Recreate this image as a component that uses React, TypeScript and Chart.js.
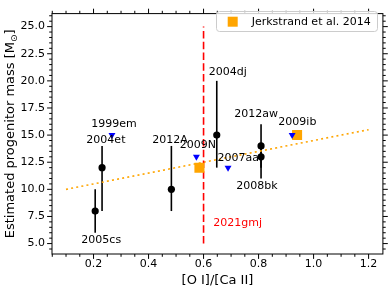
import React, { useEffect, useRef } from "react";
import { Chart, registerables } from "chart.js";

Chart.register(...registerables);

const FONT = "'DejaVu Sans', 'Liberation Sans', sans-serif";

// Supernovae with progenitor mass estimates (black points with error bars)
const snNames = ["2005cs", "2004et", "2012A", "2004dj", "2012aw", "2008bk"];
const snRatio = [0.206, 0.231, 0.483, 0.648, 0.809, 0.809];
const snMass = [8, 12, 10, 15, 14, 13];
const snMassLow = [6, 8, 8, 12, 12, 11];
const snMassHigh = [10, 14, 14, 20, 16, 14];

// Upper limits (blue down triangles)
const limNames = ["1999em", "2009N", "2007aa", "2009ib"];
const limRatio = [0.267, 0.574, 0.689, 0.922];
const limMass = [15, 13, 12, 15];

// Jerkstrand et al. 2014 models
const jerkRatio = [0.585, 0.94];
const jerkMass = [12, 15];

// Linear fit
const fitRatio = [0.1, 1.2];
const fitMass = [10.0, 15.5];

// SN 2021gmj ratio
const gmjRatio = [0.6, 0.6];
const gmjMass = [5, 25];

// Annotation labels (data-space centres)
const labelTexts = ["2005cs", "2004et", "2012A", "2004dj", "2012aw", "2008bk", "1999em", "2009N", "2007aa", "2009ib"];
const labelRatio = [0.228, 0.245, 0.478, 0.688, 0.791, 0.794, 0.274, 0.579, 0.726, 0.941];
const labelMass = [5.29, 14.49, 14.5, 20.83, 16.9, 10.32, 16.0, 14.05, 12.88, 16.16];
const gmjLabel = "2021gmj";
const gmjLabelRatio = 0.724;
const gmjLabelMass = 6.84;

const xTicks = [0.2, 0.4, 0.6, 0.8, 1.0, 1.2];
const yTicks = [5, 7.5, 10, 12.5, 15, 17.5, 20, 22.5, 25];
const xMin = 0.049, xMax = 1.252;
const yMin = 4.04, yMax = 26.2;

const xTitle = "[O I]/[Ca II]";
const yTitleMain = "Estimated progenitor mass [M";
const yTitleSub = "\u2299";
const yTitleEnd = "]";
const legendText = "Jerkstrand et al. 2014";

const ORANGE = "#FFA500";

const overlay = {
  id: "overlay",
  beforeDatasetsDraw(chart: any) {
    const ctx = chart.ctx;
    const xs = chart.scales.x, ys = chart.scales.y;
    ctx.save();
    ctx.strokeStyle = "#000";
    ctx.lineWidth = 1.6;
    for (let i = 0; i < snRatio.length; i++) {
      const px = xs.getPixelForValue(snRatio[i]);
      ctx.beginPath();
      ctx.moveTo(px, ys.getPixelForValue(snMassLow[i]));
      ctx.lineTo(px, ys.getPixelForValue(snMassHigh[i]));
      ctx.stroke();
    }
    ctx.restore();
  },
  afterDatasetsDraw(chart: any) {
    const ctx = chart.ctx;
    const xs = chart.scales.x, ys = chart.scales.y;
    ctx.save();
    ctx.font = `11px ${FONT}`;
    ctx.textAlign = "center";
    ctx.textBaseline = "middle";
    ctx.fillStyle = "#000";
    for (let i = 0; i < labelTexts.length; i++) {
      ctx.fillText(labelTexts[i], xs.getPixelForValue(labelRatio[i]), ys.getPixelForValue(labelMass[i]));
    }
    ctx.fillStyle = "#FF0000";
    ctx.fillText(gmjLabel, xs.getPixelForValue(gmjLabelRatio), ys.getPixelForValue(gmjLabelMass));
    ctx.restore();
  },
  afterDraw(chart: any) {
    const ctx = chart.ctx;
    const a = chart.chartArea;
    const xs = chart.scales.x, ys = chart.scales.y;
    ctx.save();
    // frame
    ctx.strokeStyle = "#000";
    ctx.lineWidth = 1;
    ctx.strokeRect(a.left, a.top, a.right - a.left, a.bottom - a.top);
    // ticks
    const major = 4.9, minor = 2.8;
    ctx.beginPath();
    for (let k = 1; k <= 24; k++) {
      const v = k * 0.05;
      if (v < xMin || v > xMax) continue;
      const isMajor = xTicks.some((t) => Math.abs(t - v) < 1e-6);
      const len = isMajor ? major : minor;
      const px = xs.getPixelForValue(v);
      ctx.moveTo(px, a.bottom);
      ctx.lineTo(px, a.bottom + len);
      ctx.moveTo(px, a.top);
      ctx.lineTo(px, a.top - len);
    }
    for (let k = 9; k <= 52; k++) {
      const v = k * 0.5;
      if (v < yMin || v > yMax) continue;
      const isMajor = yTicks.some((t) => Math.abs(t - v) < 1e-6);
      const len = isMajor ? major : minor;
      const py = ys.getPixelForValue(v);
      ctx.moveTo(a.left, py);
      ctx.lineTo(a.left - len, py);
      ctx.moveTo(a.right, py);
      ctx.lineTo(a.right + len, py);
    }
    ctx.lineWidth = 1;
    ctx.stroke();

    // x title
    ctx.fillStyle = "#000";
    ctx.font = `13px ${FONT}`;
    ctx.textAlign = "center";
    ctx.textBaseline = "middle";
    ctx.fillText(xTitle, (a.left + a.right) / 2, 280.5);

    // y title
    ctx.save();
    ctx.translate(14, (a.top + a.bottom) / 2);
    ctx.rotate(-Math.PI / 2);
    ctx.textAlign = "left";
    ctx.textBaseline = "alphabetic";
    ctx.font = `13px ${FONT}`;
    const w1 = ctx.measureText(yTitleMain).width;
    const w3 = ctx.measureText(yTitleEnd).width;
    ctx.font = `9px ${FONT}`;
    const w2 = ctx.measureText(yTitleSub).width;
    let x0 = -(w1 + w2 + w3) / 2;
    ctx.font = `13px ${FONT}`;
    ctx.fillText(yTitleMain, x0, 0);
    x0 += w1;
    ctx.font = `9px ${FONT}`;
    ctx.fillText(yTitleSub, x0, 2.5);
    x0 += w2;
    ctx.font = `13px ${FONT}`;
    ctx.fillText(yTitleEnd, x0, 0);
    ctx.restore();

    // legend
    const lx = 216.5, ly = 11.5, lw = 161, lh = 20;
    ctx.beginPath();
    (ctx as any).roundRect(lx, ly, lw, lh, 3);
    ctx.fillStyle = "rgba(255,255,255,0.8)";
    ctx.fill();
    ctx.strokeStyle = "#cccccc";
    ctx.lineWidth = 1;
    ctx.stroke();
    ctx.fillStyle = ORANGE;
    ctx.fillRect(227.7, 16.7, 10, 10);
    ctx.fillStyle = "#000";
    ctx.font = `11px ${FONT}`;
    ctx.textAlign = "left";
    ctx.textBaseline = "middle";
    ctx.fillText(legendText, 251.7, 21.7);
    ctx.restore();
  },
};

export default function App() {
  const ref = useRef<HTMLCanvasElement | null>(null);
  useEffect(() => {
    document.body.style.margin = "0";
    const canvas = ref.current!;
    const toPts = (xs: number[], ys: number[]) => xs.map((x, i) => ({ x, y: ys[i] }));
    const chart = new Chart(canvas, {
      type: "scatter",
      data: {
        datasets: [
          {
            label: "fit",
            data: toPts(fitRatio, fitMass),
            showLine: true,
            borderColor: ORANGE,
            borderWidth: 1.6,
            borderDash: [2, 3.2],
            pointRadius: 0,
            order: 6,
          } as any,
          {
            label: "2021gmj",
            data: toPts(gmjRatio, gmjMass),
            showLine: true,
            borderColor: "#FF0000",
            borderWidth: 1.6,
            borderDash: [7.5, 3.3],
            pointRadius: 0,
            order: 5,
          } as any,
          {
            label: legendText,
            data: toPts(jerkRatio, jerkMass),
            pointStyle: "rect",
            pointRadius: 7.1,
            backgroundColor: ORANGE,
            borderWidth: 0,
            order: 3,
          } as any,
          {
            label: "limits",
            data: toPts(limRatio, limMass),
            pointStyle: "triangle",
            rotation: 180,
            pointRadius: 4,
            backgroundColor: "#0000FF",
            borderWidth: 0,
            order: 2,
          } as any,
          {
            label: "SNe",
            data: toPts(snRatio, snMass),
            pointStyle: "circle",
            pointRadius: 3.6,
            backgroundColor: "#000",
            borderWidth: 0,
            order: 1,
          } as any,
        ],
      },
      options: {
        responsive: false,
        animation: false,
        layout: { padding: { top: 5, right: 7, left: 0, bottom: 0 } },
        plugins: { legend: { display: false }, tooltip: { enabled: false } },
        scales: {
          x: {
            type: "linear",
            min: xMin,
            max: xMax,
            afterBuildTicks: (s: any) => {
              s.ticks = xTicks.map((v) => ({ value: v }));
            },
            afterFit: (s: any) => {
              s.height = 37;
            },
            ticks: {
              callback: (v: any) => Number(v).toFixed(1),
              font: { family: FONT, size: 11 },
              color: "#000",
              padding: 4,
              autoSkip: false,
              maxRotation: 0,
            },
            grid: { display: false, drawTicks: false },
            border: { display: false },
          },
          y: {
            type: "linear",
            min: yMin,
            max: yMax,
            afterBuildTicks: (s: any) => {
              s.ticks = yTicks.map((v) => ({ value: v }));
            },
            afterFit: (s: any) => {
              s.width = 52;
            },
            ticks: {
              callback: (v: any) => Number(v).toFixed(1),
              font: { family: FONT, size: 11 },
              color: "#000",
              padding: 7,
              autoSkip: false,
            },
            grid: { display: false, drawTicks: false },
            border: { display: false },
          },
        },
      } as any,
      plugins: [overlay],
    });
    return () => chart.destroy();
  }, []);
  return <canvas ref={ref} width={390} height={291} style={{ display: "block" }} />;
}
